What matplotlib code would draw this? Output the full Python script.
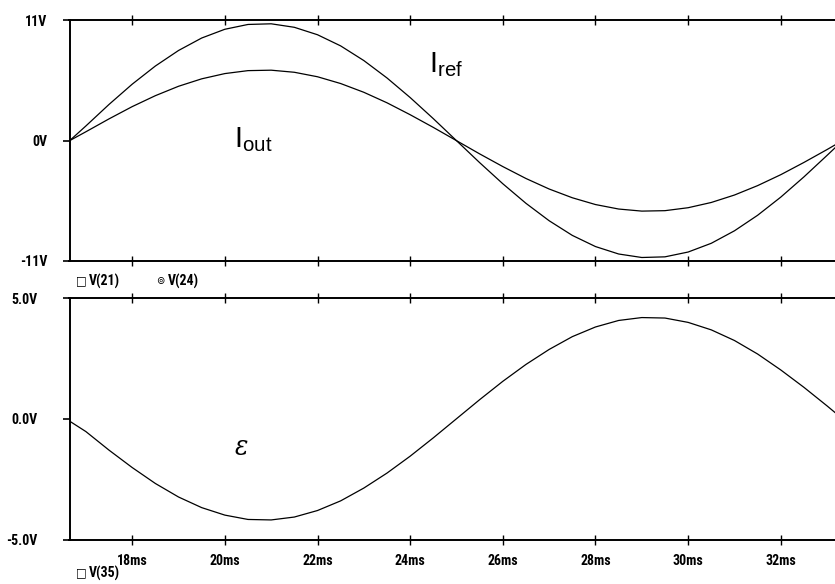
import matplotlib
matplotlib.use("Agg")
import matplotlib.pyplot as plt
from matplotlib.ticker import FixedLocator
from matplotlib import font_manager

names = {f.name for f in font_manager.fontManager.ttflist}
narrow = [n for n in ('Liberation Sans Narrow', 'Roboto Condensed', 'Open Sans Condensed',
                      'DejaVu Sans Condensed') if n in names]
plt.rcParams['font.family'] = narrow + ['Liberation Sans', 'DejaVu Sans']
plt.rcParams['font.stretch'] = 'condensed'
plt.rcParams['mathtext.fontset'] = 'custom'
plt.rcParams['mathtext.rm'] = 'Liberation Sans'
plt.rcParams['mathtext.it'] = 'Liberation Sans:italic'
LBL = 10 if narrow else 8.5

# ---- data (ms, V) ----
time_ms = [16.65, 17.0, 17.5, 18.0, 18.5, 19.0, 19.5, 20.0, 20.5, 21.0, 21.5, 22.0,
           22.5, 23.0, 23.5, 24.0, 24.5, 25.0, 25.5, 26.0, 26.5, 27.0, 27.5, 28.0,
           28.5, 29.0, 29.5, 30.0, 30.5, 31.0, 31.5, 32.0, 32.5, 33.0, 33.2]
v21_iref = [0.0, 1.34, 3.31, 5.16, 6.82, 8.24, 9.38, 10.18, 10.62, 10.68, 10.36, 9.68,
            8.66, 7.32, 5.73, 3.94, 2.01, 0.0, -2.01, -3.94, -5.73, -7.32, -8.66, -9.68,
            -10.36, -10.68, -10.62, -10.18, -9.38, -8.24, -6.82, -5.16, -3.31, -1.34, -0.54]
v24_iout = [0.0, 0.81, 1.99, 3.11, 4.11, 4.97, 5.65, 6.13, 6.40, 6.44, 6.25, 5.84,
            5.22, 4.42, 3.46, 2.37, 1.21, 0.0, -1.21, -2.37, -3.46, -4.42, -5.22, -5.84,
            -6.25, -6.44, -6.40, -6.13, -5.65, -4.97, -4.11, -3.11, -1.99, -0.81, -0.32]
v35_err = [-0.1, -0.53, -1.30, -2.02, -2.68, -3.24, -3.68, -3.99, -4.17, -4.19, -4.07, -3.80,
           -3.40, -2.87, -2.25, -1.55, -0.79, 0.0, 0.79, 1.55, 2.25, 2.87, 3.40, 3.80,
           4.07, 4.19, 4.17, 3.99, 3.68, 3.24, 2.68, 2.02, 1.30, 0.53, 0.21]

x_ticks = [18, 20, 22, 24, 26, 28, 30, 32]
x_tick_labels = ['18ms', '20ms', '22ms', '24ms', '26ms', '28ms', '30ms', '32ms']
top_yticks = [-11, 0, 11]
top_ylabels = ['-11V', '0V', '11V']
bot_yticks = [-5, 0, 5]
bot_ylabels = ['-5.0V', '0.0V', '5.0V']

W, H = 835, 584
fig = plt.figure(figsize=(W / 100, H / 100), dpi=100)

def fx(px):
    return px / W

def fy(py):
    return 1 - py / H

ax1 = fig.add_axes([fx(69.5), fy(261), 1 - fx(69.5), fy(20.3) - fy(261)])
ax2 = fig.add_axes([fx(69.5), fy(539.5), 1 - fx(69.5), fy(298) - fy(539.5)])

xlim = (16.647, 33.17)
lw_curve = 0.9
for ax in (ax1, ax2):
    ax.set_xlim(*xlim)
    ax.spines['right'].set_visible(False)
    for s in ('top', 'bottom', 'left'):
        ax.spines[s].set_linewidth(1.4)
        ax.spines[s].set_color('black')
    ax.xaxis.set_major_locator(FixedLocator(x_ticks))
    ax.tick_params(axis='x', which='both', direction='inout', length=7, width=1.0,
                   top=True, bottom=True, color='black')
    ax.tick_params(axis='y', direction='out', length=5, width=1.2, color='black')
    ax.set_facecolor('white')

ax1.plot(time_ms, v21_iref, color='black', lw=lw_curve)
ax1.plot(time_ms, v24_iout, color='black', lw=lw_curve)
ax1.set_ylim(-11, 11)
ax1.set_yticks(top_yticks)
ax1.set_yticklabels(top_ylabels, fontsize=LBL, fontweight='bold')
ax1.tick_params(axis='y', pad=11)
ax1.set_xticklabels([])

ax2.plot(time_ms, v35_err, color='black', lw=lw_curve)
ax2.set_ylim(-5, 5)
ax2.set_yticks(bot_yticks)
ax2.set_yticklabels(bot_ylabels, fontsize=LBL, fontweight='bold')
ax2.tick_params(axis='y', pad=18)
ax2.set_xticklabels(x_tick_labels, fontsize=LBL, fontweight='bold')
ax2.tick_params(axis='x', pad=7)

# curve annotations
ax1.text(24.4, 6.3, r'$\mathrm{I}_{\mathrm{ref}}$', fontsize=21, va='baseline', ha='left')
ax1.text(20.2, -0.58, r'$\mathrm{I}_{\mathrm{out}}$', fontsize=21, va='baseline', ha='left')
ax2.text(20.22, -1.49, 'ε', fontsize=20, va='baseline', ha='left',
         family=['DejaVu Serif'], style='italic')

# legend-like labels
leg_kw = dict(fontsize=LBL, fontweight='bold', va='center', ha='left')
fig.text(fx(76), fy(281), '□', fontsize=9, va='center', ha='left', family=['DejaVu Sans'])
fig.text(fx(89), fy(281), 'V(21)', **leg_kw)
fig.text(fx(156), fy(281), '⊚', fontsize=8, va='center', ha='left', family=['DejaVu Sans'])
fig.text(fx(168), fy(281), 'V(24)', **leg_kw)
fig.text(fx(76), fy(573), '□', fontsize=9, va='center', ha='left', family=['DejaVu Sans'])
fig.text(fx(89), fy(573), 'V(35)', **leg_kw)

fig.savefig('out.png', dpi=100, facecolor='white')
